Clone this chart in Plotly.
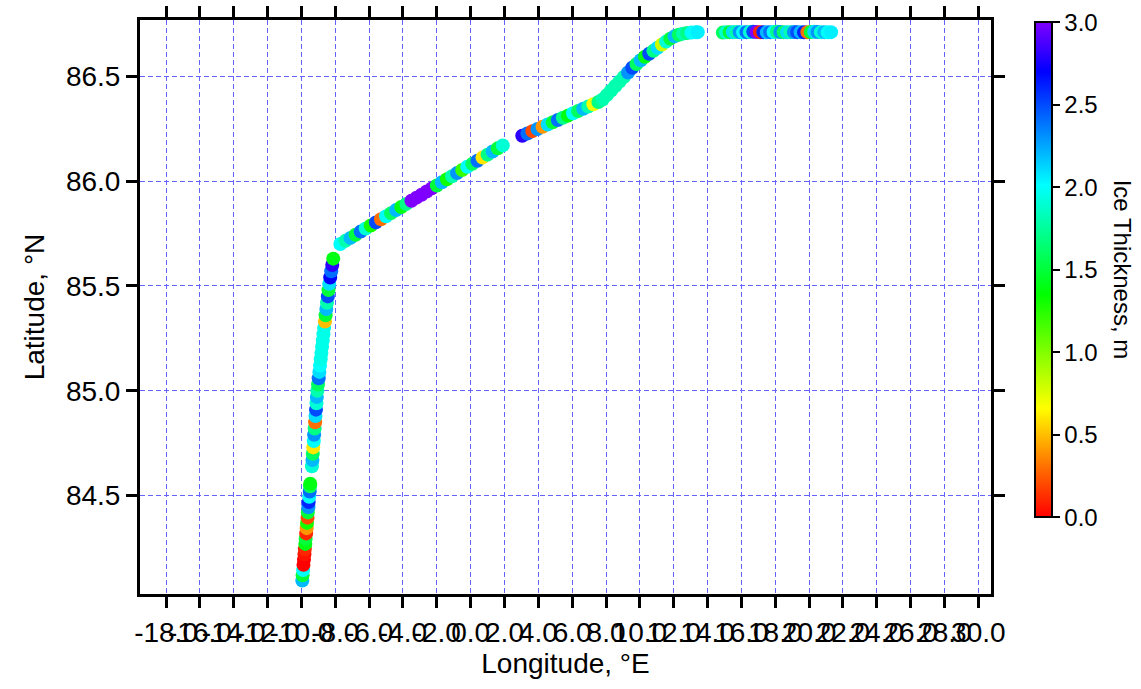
import plotly.graph_objects as go

# ---- data (track along the ice) ----
lon1 = [-9.95, -9.93, -9.90, -9.88, -9.85, -9.82, -9.80, -9.77, -9.75, -9.72,
        -9.69, -9.67, -9.64, -9.62, -9.59, -9.57, -9.54, -9.51, -9.49, -9.48]
lat1 = [84.095, 84.12, 84.145, 84.17, 84.195, 84.22, 84.245, 84.27, 84.295, 84.32,
        84.345, 84.37, 84.395, 84.42, 84.445, 84.47, 84.495, 84.52, 84.545, 84.557]
ice1 = [2.2, 1.5, 2.0, 0.0, 0.0, 0.05, 0.1, 1.4, 1.5, 0.1,
        0.4, 1.3, 0.2, 1.5, 2.3, 2.6, 2.0, 2.4, 1.6, 1.4]

lon2 = [-9.38, -9.35, -9.33, -9.30, -9.27, -9.25, -9.22, -9.19, -9.17, -9.14,
        -9.11, -9.09, -9.06, -9.02, -8.98, -8.94, -8.90, -8.86, -8.82, -8.78,
        -8.74, -8.70, -8.66, -8.61, -8.57, -8.53, -8.49, -8.44, -8.40, -8.36,
        -8.30, -8.24, -8.18, -8.12]
lat2 = [84.64, 84.67, 84.70, 84.73, 84.76, 84.79, 84.82, 84.85, 84.88, 84.91,
        84.94, 84.97, 85.00, 85.03, 85.06, 85.09, 85.12, 85.15, 85.18, 85.21,
        85.24, 85.27, 85.30, 85.33, 85.36, 85.39, 85.42, 85.45, 85.48, 85.51,
        85.54, 85.57, 85.60, 85.63]
ice2 = [1.9, 2.2, 1.6, 0.6, 2.0, 2.3, 1.7, 0.3, 2.1, 2.5,
        1.9, 2.2, 1.8, 1.6, 2.4, 2.1, 2.0, 1.95, 1.95, 1.95,
        1.95, 1.95, 1.95, 0.5, 1.5, 2.2, 1.8, 2.5, 1.5, 2.1,
        2.7, 2.4, 2.8, 1.4]

lon3 = [-7.70, -7.40, -7.10, -6.80, -6.50, -6.20, -5.90, -5.60, -5.30, -5.00,
        -4.70, -4.40, -4.10, -3.80, -3.50, -3.20, -2.90, -2.60, -2.30, -2.00,
        -1.70, -1.40, -1.10, -0.80, -0.50, -0.20, 0.10, 0.40, 0.70, 1.00,
        1.30, 1.60, 1.90]
lat3 = [85.700, 85.715, 85.729, 85.744, 85.759, 85.774, 85.788, 85.803, 85.818, 85.832,
        85.847, 85.862, 85.876, 85.891, 85.906, 85.921, 85.935, 85.950, 85.965, 85.979,
        85.994, 86.009, 86.023, 86.038, 86.053, 86.068, 86.082, 86.097, 86.112, 86.126,
        86.141, 86.156, 86.170]
ice3 = [2.0, 1.8, 2.2, 1.5, 2.4, 1.9, 1.3, 2.5, 0.3, 2.0,
        1.6, 2.2, 1.4, 1.7, 3.0, 3.0, 3.0, 3.0, 3.0, 1.5,
        2.2, 1.3, 1.8, 2.3, 1.2, 2.0, 1.6, 2.4, 0.6, 1.7,
        2.2, 1.5, 1.9]

lon4 = [3.05, 3.35, 3.65, 3.95, 4.25, 4.55, 4.85, 5.15, 5.45, 5.75,
        6.05, 6.35, 6.65, 6.95, 7.25, 7.55, 7.80, 8.05, 8.30, 8.55,
        8.80, 9.05, 9.30, 9.55, 9.80, 10.05, 10.30, 10.55, 10.80, 11.05,
        11.30, 11.55, 11.80, 12.05, 12.30, 12.55, 12.80, 13.05, 13.30, 13.42]
lat4 = [86.216, 86.227, 86.238, 86.248, 86.259, 86.270, 86.280, 86.291, 86.302, 86.312,
        86.323, 86.334, 86.345, 86.355, 86.366, 86.377, 86.389, 86.410, 86.432, 86.453,
        86.475, 86.496, 86.518, 86.540, 86.558, 86.576, 86.593, 86.607, 86.621, 86.636,
        86.651, 86.665, 86.679, 86.690, 86.698, 86.703, 86.706, 86.708, 86.709, 86.710]
ice4 = [2.8, 2.4, 0.2, 2.3, 0.4, 2.1, 1.5, 2.4, 1.7, 1.4,
        2.0, 1.6, 2.2, 1.8, 0.7, 1.7, 1.8, 1.8, 1.8, 1.8,
        1.8, 1.8, 2.3, 2.5, 1.6, 2.2, 1.4, 2.5, 1.7, 2.1,
        0.8, 1.9, 1.5, 2.2, 1.6, 1.8, 1.7, 2.0, 2.0, 2.05]

lon5 = [14.90, 15.10, 15.30, 15.50, 15.70, 15.90, 16.10, 16.30, 16.50, 16.70,
        16.90, 17.10, 17.30, 17.50, 17.70, 17.90, 18.10, 18.30, 18.50, 18.70,
        18.90, 19.10, 19.30, 19.50, 19.70, 19.90, 20.10, 20.30, 20.50, 20.70,
        20.90, 21.10, 21.30]
lat5 = [86.708, 86.709, 86.710, 86.710, 86.711, 86.710, 86.709, 86.710, 86.711, 86.712,
        86.711, 86.710, 86.710, 86.709, 86.710, 86.711, 86.712, 86.711, 86.710, 86.709,
        86.710, 86.711, 86.710, 86.710, 86.709, 86.710, 86.711, 86.712, 86.711, 86.710,
        86.710, 86.709, 86.710]
ice5 = [1.6, 1.9, 1.5, 2.1, 1.8, 2.3, 2.0, 2.4, 1.9, 2.5,
        3.0, 0.1, 2.6, 2.2, 2.4, 2.0, 1.7, 2.3, 1.6, 2.1,
        1.8, 2.3, 2.5, 2.2, 2.6, 0.3, 1.5, 2.1, 2.3, 1.9,
        2.2, 2.0, 2.05]

x_tick_vals = [-18, -16, -14, -12, -10, -8, -6, -4, -2, 0, 2, 4, 6, 8, 10, 12,
               14, 16, 18, 20, 22, 24, 26, 28, 30]
x_tick_text = ["-18.0", "-16.0", "-14.0", "-12.0", "-10.0", "-8.0", "-6.0", "-4.0",
               "-2.0", "0.0", "2.0", "4.0", "6.0", "8.0", "10.0", "12.0", "14.0",
               "16.0", "18.0", "20.0", "22.0", "24.0", "26.0", "28.0", "30.0"]
y_tick_vals = [84.5, 85.0, 85.5, 86.0, 86.5]
y_tick_text = ["84.5", "85.0", "85.5", "86.0", "86.5"]
cb_tick_vals = [0.0, 0.5, 1.0, 1.5, 2.0, 2.5, 3.0]
cb_tick_text = ["0.0", "0.5", "1.0", "1.5", "2.0", "2.5", "3.0"]

lon = lon1 + lon2 + lon3 + lon4 + lon5
lat = lat1 + lat2 + lat3 + lat4 + lat5
ice = ice1 + ice2 + ice3 + ice4 + ice5

rainbow = [[0.0, "rgb(255,0,0)"], [0.1, "rgb(255,110,0)"], [0.22, "rgb(255,255,0)"],
           [0.45, "rgb(0,255,0)"], [0.67, "rgb(0,255,255)"], [0.9, "rgb(0,0,255)"],
           [1.0, "rgb(128,0,255)"]]

FONT = "Liberation Sans, Arial, sans-serif"

fig = go.Figure(go.Scatter(
    x=lon, y=lat, mode="markers",
    marker=dict(size=14, color=ice, colorscale=rainbow, cmin=0, cmax=3,
                line=dict(width=0),
                colorbar=dict(thickness=17, thicknessmode="pixels",
                              len=495, lenmode="pixels",
                              x=1.0517, xanchor="left", xpad=0,
                              y=0.565, yanchor="middle", ypad=0,
                              outlinewidth=2, outlinecolor="black",
                              tickmode="array", tickvals=cb_tick_vals, ticktext=cb_tick_text,
                              ticks="outside", ticklen=7, tickwidth=2, tickcolor="black",
                              tickfont=dict(size=24, family=FONT, color="black"))),
    showlegend=False, hoverinfo="skip"))

GRID = "rgb(100,100,255)"
axis_common = dict(showline=True, linewidth=3, linecolor="black", mirror="ticks",
                   ticks="outside", ticklen=11, tickwidth=2.5, tickcolor="black",
                   showgrid=True, griddash="5px,3px", gridwidth=1, gridcolor=GRID,
                   zeroline=False, tickfont=dict(size=28, family=FONT, color="black"))

fig.update_xaxes(range=[-19.54, 30.75], tickmode="array", tickvals=x_tick_vals,
                 ticktext=x_tick_text, tickangle=0,
                 title=dict(text="Longitude, °E", font=dict(size=28, family=FONT, color="black"),
                            standoff=4),
                 **axis_common)
fig.update_yaxes(range=[84.031, 86.768], tickmode="array", tickvals=y_tick_vals,
                 ticktext=y_tick_text,
                 title=dict(text="Latitude, °N", font=dict(size=28, family=FONT, color="black"),
                            standoff=14),
                 **axis_common)

fig.add_annotation(text="Ice Thickness, m", xref="paper", yref="paper",
                   x=1.154, y=0.565, xanchor="center", yanchor="middle",
                   textangle=90, showarrow=False,
                   font=dict(size=24, family=FONT, color="black"))

fig.update_layout(width=1141, height=689, margin=dict(l=140, r=150, t=20, b=95, autoexpand=False),
                  paper_bgcolor="white", plot_bgcolor="white",
                  font=dict(family=FONT, color="black"))

fig.write_html("out.html")
